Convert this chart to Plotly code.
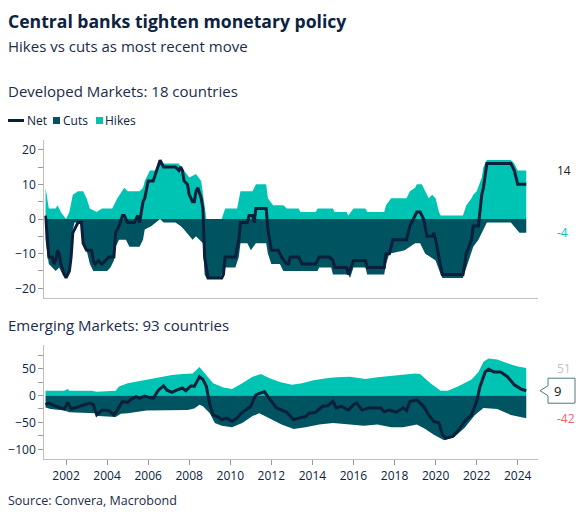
import plotly.graph_objects as go

# the page has an 8px body margin, so the figure is 16px smaller than the window
OFF = 8
W, H = 584 - 2 * OFF, 520 - 2 * OFF
navy = '#0b2341'
hike_col = '#00c4b3'
cut_col = '#005461'
net_col = '#0b1f3a'
axis_grey = '#bfbfbf'

# Developed markets (18 countries)
dm_hike_dates = ['2001-01', '2001-03', '2001-07', '2001-08', '2001-10', '2002-01', '2002-03', '2002-05', '2002-08',
                 '2002-11', '2003-01', '2003-03', '2003-07', '2003-10', '2004-04', '2004-07', '2004-11', '2005-01',
                 '2005-08', '2005-10', '2005-11', '2006-02', '2006-05', '2006-08', '2006-10', '2007-07', '2007-08',
                 '2007-10', '2008-01', '2008-05', '2008-08', '2008-09', '2008-11', '2009-08', '2009-10', '2010-05',
                 '2010-07', '2011-02', '2011-04', '2011-10', '2011-11', '2012-02', '2012-08', '2012-10', '2013-05',
                 '2013-06', '2014-03', '2014-04', '2015-01', '2015-02', '2015-09', '2015-10', '2016-01', '2016-08',
                 '2016-09', '2017-07', '2017-08', '2017-11', '2018-08', '2018-10', '2019-01', '2019-02', '2019-05',
                 '2019-07', '2019-09', '2019-11', '2020-01', '2020-03', '2020-04', '2021-05', '2021-07', '2021-10',
                 '2021-11', '2022-01', '2022-04', '2022-05', '2022-07', '2023-09', '2023-11', '2024-01', '2024-06']
dm_hikes = [9, 3, 3, 4, 2, 0, 2, 7, 8,
            8, 6, 3, 2, 3, 3, 6, 9, 8,
            8, 9, 11, 14, 14, 17, 16, 16, 15,
            14, 12, 13, 11, 7, 0, 0, 3, 3,
            8, 8, 10, 10, 6, 4, 4, 3, 3,
            2, 2, 3, 3, 2, 2, 1, 3, 3,
            2, 2, 4, 6, 6, 8, 9, 10, 10,
            8, 6, 7, 6, 2, 1, 1, 4, 6,
            7, 8, 12, 15, 17, 17, 16, 14, 14]

dm_cut_dates = ['2001-01', '2001-02', '2001-03', '2001-07', '2001-09', '2001-11', '2002-01', '2002-02', '2002-04',
                '2002-05', '2002-06', '2002-10', '2002-11', '2003-01', '2003-03', '2003-05', '2004-01', '2004-03',
                '2004-05', '2004-06', '2004-08', '2004-12', '2005-02', '2005-08', '2005-10', '2005-11', '2006-03',
                '2006-08', '2006-10', '2007-05', '2007-08', '2007-10', '2008-01', '2008-03', '2008-05', '2008-07',
                '2008-09', '2008-10', '2008-11', '2009-07', '2009-08', '2009-10', '2010-04', '2010-06', '2010-07',
                '2010-11', '2011-01', '2011-04', '2011-10', '2011-11', '2012-01', '2012-06', '2012-08', '2014-04',
                '2014-05', '2014-12', '2015-01', '2015-10', '2015-11', '2016-01', '2016-08', '2016-09', '2017-07',
                '2017-08', '2017-10', '2018-07', '2018-10', '2019-01', '2019-04', '2019-07', '2019-10', '2020-01',
                '2020-04', '2020-05', '2021-05', '2021-07', '2021-10', '2021-11', '2022-02', '2022-04', '2022-07',
                '2023-09', '2023-12', '2024-02', '2024-06']
dm_cuts = [-6, -10, -13, -15, -14, -16, -17, -16, -11,
           -3, -1, -1, -6, -9, -13, -15, -15, -14,
           -12, -8, -6, -6, -8, -8, -6, -3, -2,
           0, -1, -1, -2, -3, -5, -6, -5, -6,
           -7, -16, -17, -17, -16, -14, -14, -11, -7,
           -7, -9, -7, -7, -10, -13, -13, -15, -15,
           -14, -14, -16, -16, -17, -14, -14, -16, -16,
           -13, -10, -9, -8, -7, -7, -10, -11, -12,
           -16, -17, -17, -14, -10, -8, -6, -4, -1,
           -1, -3, -4, -4]

dm_net_dates = ['2001-01', '2001-02', '2001-03', '2001-05', '2001-06', '2001-07', '2001-08', '2001-09', '2001-10',
                '2001-12', '2002-01', '2002-03', '2002-04', '2002-05', '2002-06', '2002-08', '2002-10', '2002-11',
                '2003-01', '2003-04', '2003-05', '2003-06', '2003-08', '2003-10', '2003-12', '2004-02', '2004-05',
                '2004-06', '2004-08', '2004-10', '2004-11', '2005-01', '2005-05', '2005-07', '2005-08', '2005-10',
                '2005-11', '2006-01', '2006-04', '2006-06', '2006-07', '2006-08', '2006-10', '2007-05', '2007-07',
                '2007-08', '2007-09', '2007-10', '2007-12', '2008-01', '2008-03', '2008-04', '2008-05', '2008-06',
                '2008-08', '2008-09', '2008-10', '2008-12', '2009-08', '2009-09', '2009-10', '2010-04', '2010-06',
                '2010-07', '2010-11', '2010-12', '2011-02', '2011-03', '2011-04', '2011-10', '2011-11', '2012-01',
                '2012-05', '2012-07', '2012-10', '2012-11', '2012-12', '2013-05', '2013-07', '2014-03', '2014-05',
                '2014-11', '2015-01', '2015-02', '2015-09', '2015-10', '2016-01', '2016-08', '2016-09', '2017-07',
                '2017-08', '2017-10', '2017-12', '2018-08', '2018-10', '2018-12', '2019-02', '2019-04', '2019-06',
                '2019-08', '2019-11', '2019-12', '2020-01', '2020-03', '2020-05', '2021-05', '2021-07', '2021-10',
                '2021-11', '2022-02', '2022-04', '2022-05', '2022-07', '2023-09', '2023-11', '2024-01', '2024-06']
dm_net = [1, -6, -11, -11, -13, -12, -9, -10, -13,
          -16, -17, -15, -11, -4, -3, -1, -1, -7,
          -9, -9, -12, -13, -12, -13, -12, -11, -11,
          -4, -2, 1, 1, -1, -1, 1, -1, 5,
          6, 11, 11, 14, 16, 17, 15, 15, 14,
          15, 14, 11, 10, 7, 5, 5, 8, 9,
          6, 3, -11, -17, -17, -16, -11, -11, -6,
          -1, -1, 1, 1, -1, 3, 3, -3, -9,
          -9, -11, -13, -13, -11, -11, -13, -13, -11,
          -11, -12, -14, -14, -16, -12, -12, -14, -14,
          -10, -10, -6, -6, -2, 0, 2, 2, 0,
          -5, -5, -4, -6, -11, -16, -16, -10, -6,
          -2, -2, 7, 9, 16, 16, 14, 10, 10]

# Emerging markets (93 countries)
em_hike_dates = ['2001-01', '2001-12', '2002-02', '2002-03', '2003-04', '2003-07', '2004-06', '2004-08', '2005-01',
                 '2005-06', '2005-12', '2006-05', '2006-10', '2007-03', '2007-09', '2008-03', '2008-07', '2008-09',
                 '2008-12', '2009-03', '2009-09', '2010-02', '2010-08', '2011-02', '2011-07', '2011-12', '2012-06',
                 '2013-01', '2013-07', '2014-01', '2014-09', '2015-03', '2015-11', '2016-08', '2017-03', '2018-02',
                 '2019-01', '2019-04', '2019-10', '2020-04', '2020-08', '2021-02', '2021-10', '2022-02', '2022-05',
                 '2022-08', '2023-01', '2023-07', '2024-01', '2024-06']
em_hikes = [9, 9, 12, 9, 9, 7, 9, 17, 23,
            26, 29, 33, 35, 38, 40, 41, 53, 45,
            35, 23, 15, 12, 23, 35, 40, 32, 25,
            20, 23, 28, 32, 34, 35, 31, 34, 37,
            41, 40, 23, 9, 9, 17, 30, 44, 63,
            69, 67, 60, 54, 51]

em_cut_dates = ['2001-01', '2001-04', '2001-12', '2002-03', '2003-06', '2003-08', '2004-06', '2004-09', '2005-01',
                '2005-06', '2005-12', '2007-12', '2008-04', '2008-07', '2008-09', '2009-01', '2009-04', '2009-08',
                '2010-02', '2010-08', '2011-02', '2011-06', '2011-12', '2012-07', '2013-02', '2013-09', '2014-05',
                '2015-01', '2015-11', '2016-07', '2017-03', '2017-11', '2018-06', '2019-02', '2019-07', '2019-12',
                '2020-06', '2020-12', '2021-06', '2021-12', '2022-05', '2023-01', '2023-09', '2024-03', '2024-06']
em_cuts = [-22, -25, -28, -31, -33, -38, -40, -34, -33,
           -31, -28, -27, -24, -17, -20, -33, -51, -56,
           -59, -51, -38, -33, -42, -54, -62, -59, -54,
           -51, -54, -56, -54, -59, -59, -54, -62, -73,
           -83, -77, -60, -36, -23, -25, -36, -40, -42]

em_net_dates = ['2001-01', '2001-03', '2001-07', '2001-12', '2002-02', '2002-04', '2002-09', '2003-03', '2003-05',
                '2003-07', '2003-10', '2004-02', '2004-05', '2004-07', '2004-10', '2005-01', '2005-03', '2005-06',
                '2005-08', '2005-11', '2006-01', '2006-04', '2006-07', '2006-10', '2006-12', '2007-03', '2007-05',
                '2007-09', '2007-11', '2008-02', '2008-04', '2008-07', '2008-09', '2008-11', '2009-01', '2009-03',
                '2009-06', '2009-08', '2009-11', '2010-02', '2010-05', '2010-07', '2010-10', '2011-01', '2011-03',
                '2011-04', '2011-06', '2011-09', '2011-11', '2012-01', '2012-04', '2012-10', '2013-02', '2013-05',
                '2013-09', '2013-11', '2014-03', '2014-07', '2014-10', '2015-01', '2015-03', '2015-06', '2015-10',
                '2016-01', '2016-03', '2016-06', '2016-10', '2017-05', '2017-07', '2017-10', '2018-02', '2018-06',
                '2018-08', '2018-10', '2019-02', '2019-06', '2019-09', '2019-12', '2020-03', '2020-05', '2020-07',
                '2020-11', '2021-03', '2021-06', '2021-10', '2022-01', '2022-03', '2022-06', '2022-08', '2022-11',
                '2023-03', '2023-07', '2023-11', '2024-03', '2024-06']
em_net = [-17, -14, -20, -25, -13, -25, -20, -14, -17,
          -36, -27, -28, -36, -27, -11, -13, -7, -2,
          -5, -1, -3, -5, 10, 18, 10, 6, 9,
          14, 9, 18, 17, 35, 30, 17, -17, -36,
          -40, -45, -42, -48, -42, -34, -27, -20, -5,
          1, 4, 7, -2, -11, -23, -31, -45, -42,
          -39, -33, -31, -20, -19, -11, -23, -20, -27,
          -17, -14, -27, -23, -23, -30, -27, -31, -23,
          -28, -11, -8, -20, -36, -48, -51, -73, -79,
          -76, -62, -48, -36, -11, 17, 44, 49, 44,
          44, 35, 20, 12, 9]

year_ticks = ['2002-01-01', '2004-01-01', '2006-01-01', '2008-01-01', '2010-01-01', '2012-01-01',
              '2014-01-01', '2016-01-01', '2018-01-01', '2020-01-01', '2022-01-01', '2024-01-01']
year_labels = ['2002', '2004', '2006', '2008', '2010', '2012', '2014', '2016', '2018', '2020', '2022', '2024']


# window pixel -> paper fraction
def px(x):
    return (x - OFF) / W


def py(y):
    return 1 - (y - OFF) / H


def add_panel(fig, xa, ya, hike_d, hikes, cut_d, cuts, net_d, net):
    fig.add_trace(go.Scatter(x=hike_d, y=hikes, mode='lines', line=dict(width=0), fill='tozeroy',
                             fillcolor=hike_col, xaxis=xa, yaxis=ya, showlegend=False, hoverinfo='skip'))
    fig.add_trace(go.Scatter(x=cut_d, y=cuts, mode='lines', line=dict(width=0), fill='tozeroy',
                             fillcolor=cut_col, xaxis=xa, yaxis=ya, showlegend=False, hoverinfo='skip'))
    fig.add_trace(go.Scatter(x=net_d, y=net, mode='lines', line=dict(width=3, color=net_col),
                             xaxis=xa, yaxis=ya, showlegend=False))


fig = go.Figure()
add_panel(fig, 'x', 'y', dm_hike_dates, dm_hikes, dm_cut_dates, dm_cuts, dm_net_dates, dm_net)
add_panel(fig, 'x2', 'y2', em_hike_dates, em_hikes, em_cut_dates, em_cuts, em_net_dates, em_net)

tickfont = dict(family='Open Sans', size=12, color=navy)
xcommon = dict(type='date', range=['2000-12-10', '2025-01-01'], domain=[px(44.3), px(538.3)],
               showgrid=False, zeroline=False, showline=True, linecolor=axis_grey, linewidth=1.3,
               tickfont=tickfont)
ycommon = dict(showgrid=False, zeroline=False, showline=True, linecolor=axis_grey, linewidth=1.3,
               ticks='outside', ticklen=5, tickcolor='#999999', tickfont=tickfont)

fig.update_layout(
    width=W, height=H,
    margin=dict(l=0, r=0, t=0, b=0),
    paper_bgcolor='white', plot_bgcolor='white',
    showlegend=False,
    xaxis=dict(xcommon, anchor='y', showticklabels=False, ticks=''),
    yaxis=dict(ycommon, domain=[py(298), py(140)], range=[-22.8, 22.8], anchor='x',
               tickvals=[-20, -10, 0, 10, 20],
               minor=dict(ticks='outside', ticklen=5, tickcolor='#999999', dtick=5, tick0=0)),
    xaxis2=dict(xcommon, anchor='y2', tickvals=year_ticks, ticktext=year_labels,
                ticks='outside', ticklen=5, tickcolor='#999999'),
    yaxis2=dict(ycommon, domain=[py(459), py(345)], range=[-118, 94], anchor='x2',
                tickvals=[-100, -50, 0, 50],
                minor=dict(ticks='outside', ticklen=5, tickcolor='#999999', dtick=25, tick0=0)),
)

# titles
texts = [
    ('<b>Central banks tighten monetary policy</b>', 21, 17.6, '#0b2341'),
    ('Hikes vs cuts as most recent move', 46, 15, '#1b2b4b'),
    ('Developed Markets: 18 countries', 91, 15, '#1b2b4b'),
    ('Emerging Markets: 93 countries', 325, 15, '#1b2b4b'),
    ('Source: Convera, Macrobond', 500, 12.5, '#1b2b4b'),
]
for txt, yy, size, col in texts:
    fig.add_annotation(text=txt, x=px(6), y=py(yy), xref='paper', yref='paper', xanchor='left',
                       yanchor='middle', showarrow=False, font=dict(family='Open Sans', size=size, color=col))

# legend drawn by hand
fig.add_shape(type='line', xref='paper', yref='paper', x0=px(8), x1=px(24), y0=py(120.5), y1=py(120.5),
              line=dict(color=net_col, width=3))
fig.add_shape(type='rect', xref='paper', yref='paper', x0=px(53), x1=px(60), y0=py(124), y1=py(117),
              fillcolor=cut_col, line=dict(width=0))
fig.add_shape(type='rect', xref='paper', yref='paper', x0=px(96), x1=px(103), y0=py(124), y1=py(117),
              fillcolor=hike_col, line=dict(width=0))
for txt, xx in [('Net', 25), ('Cuts', 61), ('Hikes', 103)]:
    fig.add_annotation(text=txt, x=px(xx), y=py(120.5), xref='paper', yref='paper', xanchor='left',
                       yanchor='middle', showarrow=False, font=dict(family='Open Sans', size=12, color=navy))

# last-value labels
fig.add_annotation(text=str(dm_hikes[-1]), x=px(555), y=dm_hikes[-1], xref='paper', yref='y', xanchor='left',
                   showarrow=False, font=dict(family='Open Sans', size=12, color='#222222'))
fig.add_annotation(text=str(dm_cuts[-1]), x=px(555), y=dm_cuts[-1], xref='paper', yref='y', xanchor='left',
                   showarrow=False, font=dict(family='Open Sans', size=12, color=hike_col))
fig.add_annotation(text=str(em_hikes[-1]), x=px(555), y=em_hikes[-1], xref='paper', yref='y2', xanchor='left',
                   showarrow=False, font=dict(family='Open Sans', size=12, color='#c4c4c4'))
fig.add_annotation(text=str(em_cuts[-1]), x=px(555), y=em_cuts[-1], xref='paper', yref='y2', xanchor='left',
                   showarrow=False, font=dict(family='Open Sans', size=12, color='#f0676d'))

# callout box for the latest EM net value
fig.add_shape(type='path', xref='paper', yref='y2', xsizemode='pixel', ysizemode='pixel',
              xanchor=px(540), yanchor=em_net[-1],
              path='M 0 0 L 8 5 L 8 12.5 L 35 12.5 L 35 -12.5 L 8 -12.5 L 8 -5 Z',
              fillcolor='white', line=dict(color='#4f7c82', width=1))
fig.add_annotation(text=str(em_net[-1]), x=px(552), y=em_net[-1], xref='paper', yref='y2', xanchor='left',
                   showarrow=False, font=dict(family='Open Sans', size=13, color='#111111'))

fig.write_html("out.html")
